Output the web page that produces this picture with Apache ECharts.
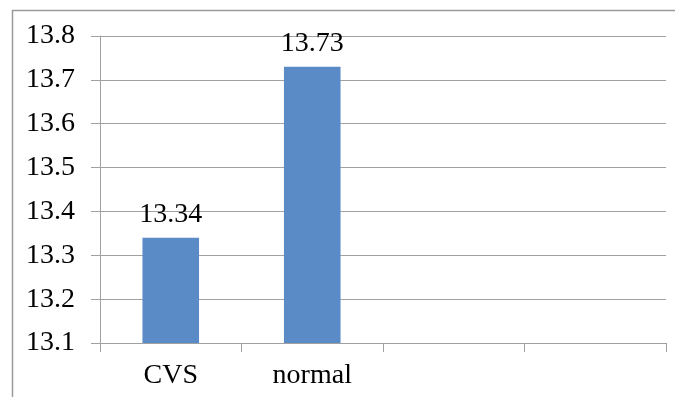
<!DOCTYPE html>
<html>
<head>
<meta charset="utf-8">
<script src="https://cdn.jsdelivr.net/npm/echarts@6/dist/echarts.min.js"></script>
<style>html,body{margin:0;padding:0;background:#fff}#c{width:675px;height:397px}</style>
</head>
<body>
<div id="c"></div>
<script>
const categories = ['CVS', 'normal', '', ''];
const values = [13.34, 13.73, null, null];
const yMin = 13.1, yMax = 13.8, yStep = 0.1;

const chart = echarts.init(document.getElementById('c'), null, {renderer: 'canvas'});
const font = 'Liberation Serif';
chart.setOption({
  animation: false,
  backgroundColor: '#fff',
  grid: {left: 100, right: 9, top: 36, bottom: 54},
  graphic: [
    {type: 'line', shape: {x1: 12, y1: 10.5, x2: 675, y2: 10.5}, style: {stroke: '#9a9a9a', lineWidth: 1.5}},
    {type: 'line', shape: {x1: 12.5, y1: 10, x2: 12.5, y2: 397}, style: {stroke: '#9a9a9a', lineWidth: 1.5}}
  ],
  xAxis: {
    type: 'category',
    data: categories,
    boundaryGap: true,
    axisLine: {show: true, lineStyle: {color: '#a0a0a0', width: 1}},
    axisTick: {show: true, interval: 0, length: 9, lineStyle: {color: '#a0a0a0'}},
    axisLabel: {interval: 0, color: '#000', fontFamily: font, fontSize: 28, margin: 19},
    splitLine: {show: false}
  },
  yAxis: {
    type: 'value',
    min: yMin, max: yMax, interval: yStep,
    axisLine: {show: true, lineStyle: {color: '#a0a0a0', width: 1}},
    axisTick: {show: true, length: 9, lineStyle: {color: '#a0a0a0'}},
    axisLabel: {color: '#000', fontFamily: font, fontSize: 28, margin: 25,
      formatter: v => v.toFixed(1)},
    splitLine: {show: true, lineStyle: {color: '#a0a0a0', width: 1}}
  },
  series: [{
    type: 'bar',
    data: values,
    barWidth: '40%',
    itemStyle: {color: '#5b8bc6'},
    label: {show: true, position: 'top', distance: 9, color: '#000', fontFamily: font, fontSize: 28,
      formatter: p => p.value.toFixed(2)}
  }]
});
</script>
</body>
</html>
